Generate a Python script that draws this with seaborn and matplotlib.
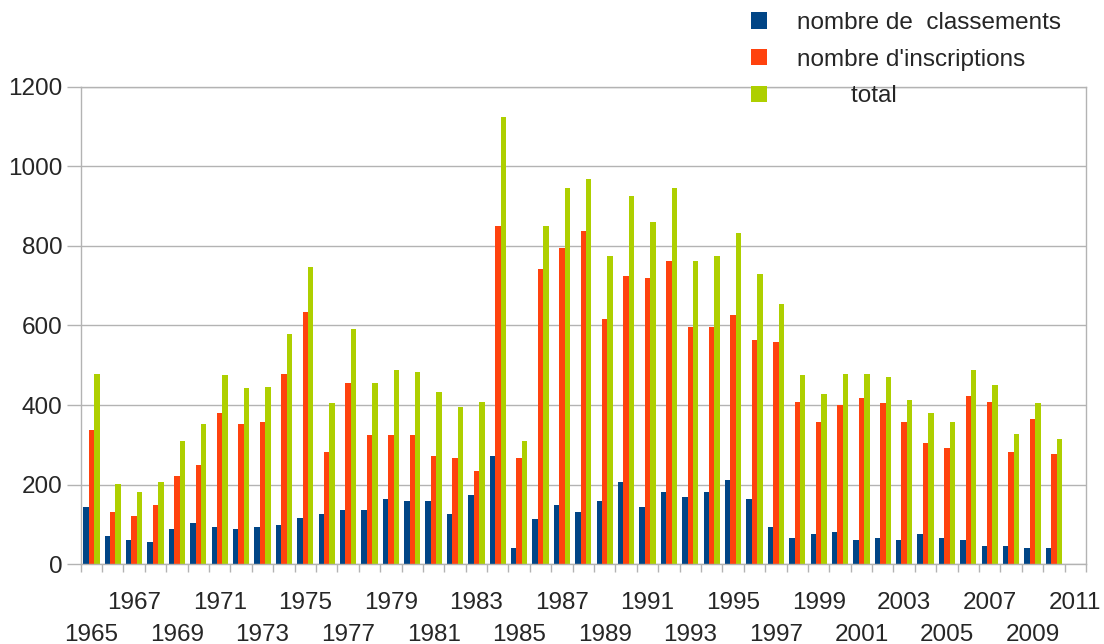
import numpy as np
import pandas as pd
import matplotlib
matplotlib.use("Agg")
import matplotlib.pyplot as plt
import seaborn as sns

# _____________________________________________
# Data
# _____________________________________________

years = [str(y) for y in range(1965, 2011)]
axis_years = years + ["2011"]   # last category is empty

classements = [144, 71, 61, 56, 89, 104, 94, 89, 94, 99, 116, 126,
               136, 136, 164, 159, 159, 126, 174, 272, 41, 114, 149,
               131, 159, 207, 144, 182, 169, 182, 212, 164, 94, 66,
               76, 81, 61, 66, 61, 76, 66, 61, 46, 46, 41, 41]
inscriptions = [337, 131, 121, 149, 222, 250, 380, 353, 358, 478, 634, 282,
                455, 325, 325, 325, 272, 267, 234, 850, 267, 742, 795,
                837, 616, 724, 719, 762, 596, 596, 626, 564, 559, 408,
                358, 400, 418, 405, 358, 305, 292, 423, 408, 282, 365, 277]
total = [478, 202, 182, 207, 310, 353, 476, 443, 446, 579, 747, 405,
         591, 456, 488, 483, 433, 395, 408, 1124, 310, 850, 945,
         968, 775, 925, 860, 945, 762, 775, 832, 729, 654, 476,
         428, 478, 478, 471, 413, 380, 358, 488, 451, 327, 405, 315]

series_names = ["nombre de  classements", "nombre d'inscriptions", "total"]
legend_labels = ["nombre de  classements", "nombre d'inscriptions", "        total"]
colors = ["#004586", "#ff420e", "#aecf00"]
y_ticks = [0, 200, 400, 600, 800, 1000, 1200]

df = pd.DataFrame({
    "year": years * 3,
    "value": classements + inscriptions + total,
    "serie": [series_names[0]] * len(years) + [series_names[1]] * len(years)
             + [series_names[2]] * len(years),
})

# _____________________________________________
# Plot
# _____________________________________________

sns.set_style("white")
plt.rcParams["font.family"] = ["Liberation Sans", "DejaVu Sans"]

grid_col = "#b3b3b3"

fig = plt.figure(figsize=(11.04, 6.44), dpi=100)
ax = fig.add_axes([80.7 / 1104, 1 - 564.3 / 644, (1086 - 80.7) / 1104, (564.3 - 86.7) / 644])

sns.barplot(data=df, x="year", y="value", hue="serie", order=axis_years,
            hue_order=series_names, palette=colors, width=0.76, gap=0,
            saturation=1, linewidth=0, ax=ax, legend=True)

ax.set_xlim(-0.5, len(axis_years) - 0.5)
ax.set_ylim(0, 1200)
ax.set_yticks(y_ticks)
ax.set_yticklabels([str(t) for t in y_ticks], fontsize=17.5)
ax.yaxis.grid(True, color=grid_col, linewidth=1)
ax.set_axisbelow(True)
ax.tick_params(axis="y", length=10, width=1, color=grid_col, pad=3, left=True)

# x labels: every other year, staggered on two rows
upper_pos = [i for i in range(len(axis_years)) if i % 4 == 2]
lower_pos = [i for i in range(len(axis_years)) if i % 4 == 0]
ax.set_xticks(upper_pos)
ax.set_xticklabels([axis_years[i] for i in upper_pos], fontsize=17.5)
ax.set_xticks(np.arange(-0.5, len(axis_years), 1), minor=True)
ax.tick_params(axis="x", which="major", length=0, pad=20)
ax.tick_params(axis="x", which="minor", length=6, width=1, color=grid_col, bottom=True)

sec = ax.secondary_xaxis("bottom")
sec.set_xticks(lower_pos)
sec.set_xticklabels([axis_years[i] for i in lower_pos], fontsize=17.5)
sec.tick_params(axis="x", length=0, pad=43)
sec.spines["bottom"].set_visible(False)

ax.set_xlabel("")
ax.set_ylabel("")
for s in ax.spines.values():
    s.set_visible(True)
    s.set_color(grid_col)
    s.set_linewidth(1)

handles, _ = ax.get_legend_handles_labels()
ax.legend_.remove()
fig.legend(handles, legend_labels, loc="upper left",
           bbox_to_anchor=(751 / 1104, 1 - 12 / 644), frameon=False,
           fontsize=17.5, handlelength=0.65, handleheight=0.65,
           handletextpad=1.25, labelspacing=0.6, borderpad=0, borderaxespad=0)

fig.savefig("out.png", dpi=100)
